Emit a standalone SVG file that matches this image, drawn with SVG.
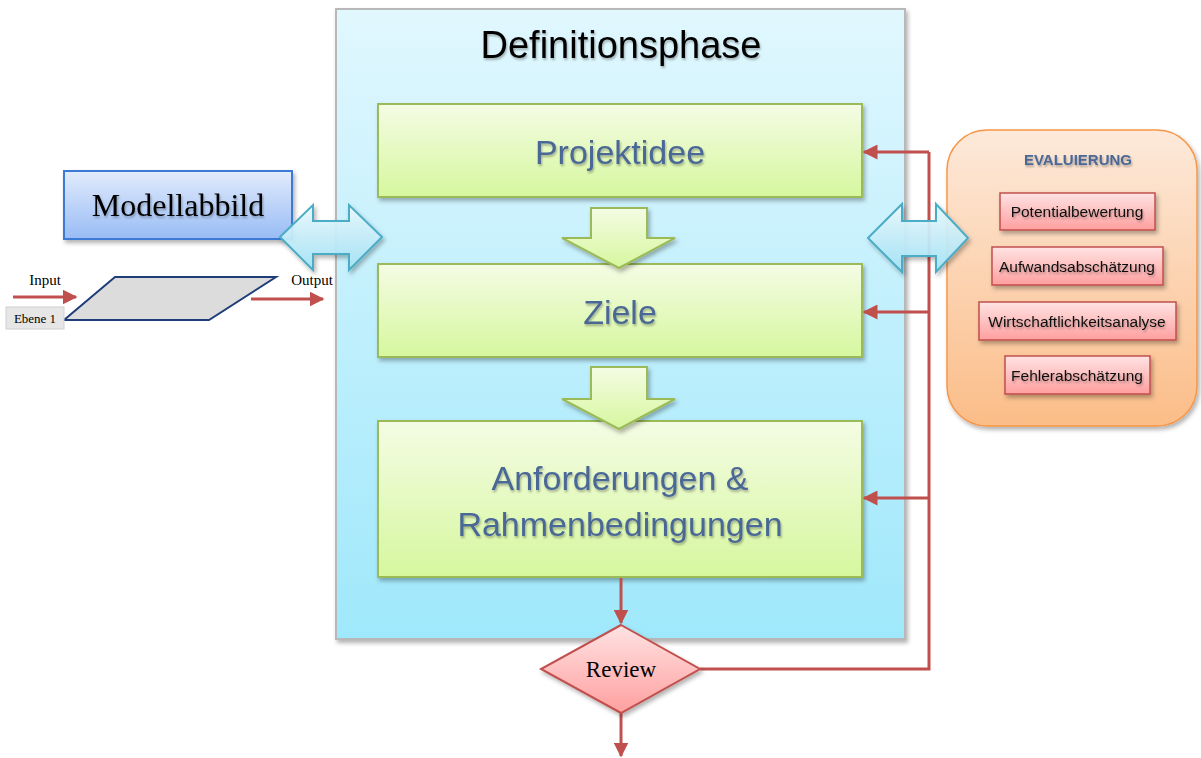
<svg xmlns="http://www.w3.org/2000/svg" width="1201" height="758" viewBox="0 0 1201 758">
<defs>
<linearGradient id="gPanel" x1="0" y1="0" x2="0" y2="1"><stop offset="0" stop-color="#e1f7fe"/><stop offset="1" stop-color="#9fe8fb"/></linearGradient>
<linearGradient id="gGreen" x1="0" y1="0" x2="0" y2="1"><stop offset="0" stop-color="#f4fce4"/><stop offset="1" stop-color="#d6f79e"/></linearGradient>
<linearGradient id="gBlue" x1="0" y1="0" x2="0" y2="1"><stop offset="0" stop-color="#e2ebfc"/><stop offset="1" stop-color="#98bcf5"/></linearGradient>
<linearGradient id="gCyan" x1="0" y1="0" x2="0" y2="1"><stop offset="0" stop-color="#eaf9fe"/><stop offset="1" stop-color="#a4e4f7"/></linearGradient>
<linearGradient id="gOrange" x1="0" y1="0" x2="0" y2="1"><stop offset="0" stop-color="#fde9da"/><stop offset="1" stop-color="#fbbd88"/></linearGradient>
<linearGradient id="gPink" x1="0" y1="0" x2="0" y2="1"><stop offset="0" stop-color="#ffe3e3"/><stop offset="1" stop-color="#ff9f9f"/></linearGradient>
<filter id="sh" x="-10%" y="-10%" width="130%" height="130%"><feDropShadow dx="2" dy="3" stdDeviation="2" flood-color="#000" flood-opacity="0.3"/></filter>
<filter id="tsh" x="-10%" y="-10%" width="130%" height="140%"><feDropShadow dx="1" dy="2" stdDeviation="1" flood-color="#000" flood-opacity="0.3"/></filter>
<marker id="ah" viewBox="0 0 10 10" refX="9" refY="5" markerWidth="5" markerHeight="5" orient="auto" markerUnits="strokeWidth"><path d="M0,0 L10,5 L0,10 z" fill="#c0504d"/></marker>
<style>
.sans{font-family:"Liberation Sans",Arial,sans-serif}
.serif{font-family:"Liberation Serif","Times New Roman",serif}
.green{fill:url(#gGreen);stroke:#9bbb59;stroke-width:2;filter:url(#sh)}
.gtxt{fill:#4a6796;font-size:34px;text-anchor:middle;filter:url(#tsh)}
.pink{fill:url(#gPink);stroke:#c0504d;stroke-width:1.5;filter:url(#sh)}
.ptxt{fill:#111;font-size:15.5px;text-anchor:middle;filter:url(#tsh)}
.dbl{fill:url(#gCyan);stroke:#4bacc6;stroke-width:2;fill-opacity:0.92;filter:url(#sh)}
.conn{fill:none;stroke:#c0504d;stroke-width:3}
</style>
</defs>
<rect width="1201" height="758" fill="#fff"/>

<g id="definitionsphase">
<rect x="336" y="9" width="569" height="630" fill="url(#gPanel)" stroke="#b8b8b8" stroke-width="2" filter="url(#sh)"/>
<text class="sans" x="621" y="58" font-size="38" text-anchor="middle" fill="#000" filter="url(#tsh)">Definitionsphase</text>
</g>

<g id="projektidee">
<rect class="green" x="378" y="104" width="484" height="93"/>
<text class="sans gtxt" x="620" y="164">Projektidee</text>
</g>
<g id="ziele">
<rect class="green" x="378" y="264" width="484" height="93"/>
<text class="sans gtxt" x="620" y="324">Ziele</text>
</g>
<g id="anforderungen">
<rect class="green" x="378" y="421" width="484" height="156"/>
<text class="sans gtxt" x="620" y="490">Anforderungen &amp;</text>
<text class="sans gtxt" x="620" y="536">Rahmenbedingungen</text>
</g>
<g id="pfeil1">
<path class="green" d="M591,208 H647 V238 H675 L619,268 L562,238 H591 Z"/>
</g>
<g id="pfeil2">
<path class="green" d="M591,367 H647 V399 H675 L619,429 L562,399 H591 Z"/>
</g>

<g id="connectors">
<line class="conn" x1="621" y1="578" x2="621" y2="623" marker-end="url(#ah)"/>
<line class="conn" x1="621" y1="713" x2="621" y2="756" marker-end="url(#ah)"/>
<polyline class="conn" points="700,669 929,669 929,152"/>
<line class="conn" x1="929" y1="152" x2="864" y2="152" marker-end="url(#ah)"/>
<line class="conn" x1="929" y1="312" x2="864" y2="312" marker-end="url(#ah)"/>
<line class="conn" x1="929" y1="498" x2="864" y2="498" marker-end="url(#ah)"/>
<line class="conn" x1="13" y1="297" x2="76" y2="297" marker-end="url(#ah)"/>
<line class="conn" x1="251" y1="299" x2="323" y2="299" marker-end="url(#ah)"/>
</g>

<g id="review">
<path d="M621,625 L700,669 L621,713 L541,669 Z" fill="url(#gPink)" stroke="#c0504d" stroke-width="2" filter="url(#sh)"/>
<text class="serif" x="621" y="677" font-size="23" text-anchor="middle" fill="#000">Review</text>
</g>

<g id="modellabbild">
<rect x="64" y="171" width="228" height="68" fill="url(#gBlue)" stroke="#3d7ad6" stroke-width="2" filter="url(#sh)"/>
<text class="serif" x="178" y="216" font-size="32" text-anchor="middle" fill="#000" filter="url(#tsh)">Modellabbild</text>
</g>

<g id="ebene1">
<path d="M115,277 L276,277 L209,320 L64,320 Z" fill="#dcdcdc" stroke="#1f3d78" stroke-width="2"/>
<rect x="6" y="307" width="58" height="22" fill="#e6e6e6" stroke="#d0d0d0" stroke-width="1"/>
<text class="serif" x="35" y="323" font-size="13" text-anchor="middle" fill="#000">Ebene 1</text>
<text class="serif" x="45" y="285" font-size="15" text-anchor="middle" fill="#000">Input</text>
<text class="serif" x="312" y="285" font-size="15" text-anchor="middle" fill="#000">Output</text>
</g>

<g id="evaluierung">
<rect x="947" y="130" width="250" height="296" rx="40" ry="40" fill="url(#gOrange)" stroke="#f79646" stroke-width="1.5" filter="url(#sh)"/>
<text class="sans" x="1078" y="165" font-size="15" font-weight="bold" text-anchor="middle" fill="#4a6796" filter="url(#tsh)">EVALUIERUNG</text>
</g>
<g id="potentialbewertung">
<rect class="pink" x="1000" y="193" width="155" height="37"/>
<text class="sans ptxt" x="1077" y="217">Potentialbewertung</text>
</g>
<g id="aufwandsabschaetzung">
<rect class="pink" x="992" y="247" width="171" height="38"/>
<text class="sans ptxt" x="1077" y="272">Aufwandsabschätzung</text>
</g>
<g id="wirtschaftlichkeitsanalyse">
<rect class="pink" x="979" y="302" width="197" height="38"/>
<text class="sans ptxt" x="1077" y="327">Wirtschaftlichkeitsanalyse</text>
</g>
<g id="fehlerabschaetzung">
<rect class="pink" x="1005" y="356" width="145" height="38"/>
<text class="sans ptxt" x="1077" y="381">Fehlerabschätzung</text>
</g>

<g id="doppelpfeil-links">
<path class="dbl" d="M280,237 L313,205 V221 H349 V205 L382,237 L349,270 V254 H313 V270 Z"/>
</g>
<g id="doppelpfeil-rechts">
<path class="dbl" d="M868,238 L902,204 V221 H936 V204 L968,238 L936,272 V256 H902 V272 Z"/>
</g>
</svg>
